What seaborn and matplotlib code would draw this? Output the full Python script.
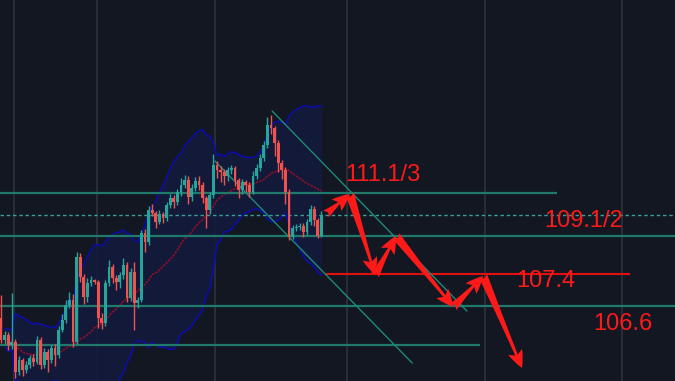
import numpy as np
import pandas as pd
import seaborn as sns
import matplotlib.pyplot as plt

# candle data (one bar per slot)
first_open = 105.10
closes = [104.00, 104.25, 103.75, 103.90, 102.40, 103.00, 102.50, 102.75, 103.10, 102.90,
          104.00, 102.75, 103.40, 103.00, 103.60, 103.25, 104.50, 105.00, 105.75, 106.00,
          103.90, 108.15, 107.15, 106.15, 106.85, 107.00, 106.90, 105.10, 104.85, 106.85,
          107.65, 107.10, 106.90, 107.25, 107.75, 106.10, 107.40, 105.85, 106.00, 109.35,
          108.90, 110.50, 110.35, 109.90, 110.30, 110.10, 110.75, 111.10, 110.90, 111.40,
          111.75, 112.00, 111.15, 111.60, 111.95, 111.75, 111.10, 110.50, 111.25, 112.75,
          112.50, 112.40, 112.20, 112.50, 112.60, 112.00, 111.50, 111.90, 111.75, 111.40,
          112.20, 112.60, 113.10, 113.75, 114.75, 114.60, 113.85, 112.85, 112.50, 111.40,
          109.15, 109.60, 109.65, 109.70, 109.40, 109.90, 110.55, 110.00, 109.20, 110.25]
highs = [106.25, 104.45, 104.40, 106.35, 104.05, 103.20, 103.10, 102.95, 103.25, 103.30,
         104.20, 104.15, 103.60, 103.55, 103.75, 103.80, 104.70, 105.30, 106.00, 106.40,
         106.30, 108.40, 108.35, 107.30, 107.10, 107.20, 107.05, 107.00, 105.35, 107.00,
         108.00, 107.80, 107.25, 107.40, 108.10, 107.90, 107.60, 107.90, 106.15, 109.50,
         109.55, 110.70, 110.80, 110.45, 110.50, 110.40, 110.90, 111.30, 111.25, 111.55,
         112.10, 112.25, 112.20, 111.80, 112.15, 112.20, 111.90, 111.20, 111.40, 113.30,
         112.95, 112.70, 112.55, 112.65, 112.75, 112.70, 112.10, 112.05, 112.00, 111.90,
         112.45, 112.80, 113.30, 113.95, 115.15, 115.25, 114.70, 114.00, 113.00, 112.65,
         111.55, 109.75, 109.80, 109.85, 109.85, 110.05, 110.75, 110.70, 110.10, 110.45]
lows = [103.85, 103.80, 103.50, 103.55, 102.10, 102.25, 102.20, 102.35, 102.60, 102.70,
        102.80, 102.55, 102.60, 102.40, 102.85, 102.70, 103.10, 104.40, 104.85, 105.60,
        103.65, 103.80, 106.90, 105.80, 105.90, 106.70, 106.80, 104.60, 104.55, 104.70,
        106.70, 106.85, 106.50, 106.60, 107.05, 105.90, 105.95, 104.50, 105.60, 105.90,
        108.40, 108.75, 110.20, 109.60, 109.80, 109.85, 109.95, 110.60, 110.60, 110.75,
        111.20, 111.60, 110.80, 110.95, 111.45, 111.50, 110.85, 109.60, 110.30, 111.10,
        112.10, 111.90, 111.75, 111.95, 112.30, 111.70, 111.10, 111.30, 111.40, 111.15,
        111.30, 112.05, 112.45, 112.95, 113.60, 114.30, 113.20, 112.40, 112.05, 110.80,
        109.00, 109.05, 109.45, 109.50, 109.15, 109.25, 109.75, 109.70, 109.10, 109.15]

# drawn levels (price)
level_full = [109.20, 105.70]
level_top = 111.35
level_low = 103.75
level_red = 107.30
last_price = 110.25

# trend channel lines (bar, price)
channel_upper = [(75.3, 115.45), (129.4, 105.45)]
channel_lower = [(59.4, 112.95), (114.2, 102.85)]

# forecast path (bar, price)
path_bar = [90.3, 96.9, 103.9, 109.7, 125.6, 133.9, 144.7]
path_price = [110.30, 111.30, 107.25, 109.20, 105.65, 107.20, 102.60]

# annotations
labels = ["111.1/3", "109.1/2", "107.4", "106.6"]
label_bar = [106.1, 161.7, 151.4, 172.8]
label_price = [112.25, 109.95, 106.95, 104.8]

grid_bars = [3.6, 26.7, 59.4, 96.1, 134.4, 172.5]

df = pd.DataFrame({"close": closes, "high": highs, "low": lows})
df["open"] = [first_open] + closes[:-1]
df["bar"] = np.arange(len(df))
roll = df["close"].rolling(22, min_periods=2)
df["mid"] = roll.mean()
df["upper"] = df["mid"] + 2.3 * roll.std()
df["lower"] = df["mid"] - 2.3 * roll.std()

bg = "#131722"
up_c, dn_c = "#26a69a", "#ef5350"
teal = "#1f7a6c"

sns.set_theme(style="dark", rc={"axes.facecolor": bg, "figure.facecolor": bg})
plt.rcParams["font.family"] = ["Liberation Sans", "DejaVu Sans"]

fig = plt.figure(figsize=(6.75, 3.81), dpi=100)
ax = fig.add_axes([0, 0, 1, 1])
ax.set_xlim(-0.28, 187.2)
ax.set_ylim(101.95, 121.0)

for gx in grid_bars:
    ax.axvline(gx, color="#2e323d", lw=1.2, zorder=0)

# bollinger band
ax.fill_between(df["bar"], df["lower"], df["upper"], color="#141a3c", alpha=0.9, lw=0, zorder=1)
sns.lineplot(data=df, x="bar", y="upper", ax=ax, color="#0c0cb0", lw=1.1, zorder=2)
sns.lineplot(data=df, x="bar", y="lower", ax=ax, color="#0c0cb0", lw=1.1, zorder=2)
sns.lineplot(data=df, x="bar", y="mid", ax=ax, color="#8a1028", lw=1.2, ls=(0, (1.5, 0.6)), zorder=2)

# levels
for lv in level_full:
    ax.axhline(lv, color=teal, lw=1.6, zorder=3)
ax.hlines(level_top, -0.28, 154.4, color=teal, lw=1.6, zorder=3)
ax.hlines(level_low, -0.28, 133.0, color=teal, lw=1.6, zorder=3)
ax.axhline(last_price, color="#3a9e98", lw=1.0, ls=(0, (2.5, 2)), zorder=3)
ax.hlines(level_red, 90.0, 174.7, color="#e01010", lw=1.5, zorder=3)

for line in (channel_upper, channel_lower):
    xs, ys = zip(*line)
    ax.plot(xs, ys, color="#1f8a78", lw=1.0, zorder=3)

# candles
colors = [up_c if c >= o else dn_c for o, c in zip(df["open"], df["close"])]
ax.vlines(df["bar"], df["low"], df["high"], colors=colors, lw=1.0, zorder=4)
body_lo = np.minimum(df["open"], df["close"])
body_h = np.maximum(np.abs(df["close"] - df["open"]), 0.06)
ax.bar(df["bar"], body_h, bottom=body_lo, width=0.8, color=colors, lw=0, zorder=5)

# forecast arrows
for k in range(len(path_bar) - 1):
    ax.annotate("", xy=(path_bar[k + 1], path_price[k + 1]), xytext=(path_bar[k], path_price[k]),
                arrowprops=dict(arrowstyle="fancy,head_length=0.7,head_width=0.6,tail_width=0.35",
                                color="#ff1a1a", lw=0, shrinkA=0, shrinkB=0, mutation_scale=18),
                zorder=6)

for t, bx, py in zip(labels, label_bar, label_price):
    ax.text(bx, py, t, color="#ff1a1a", fontsize=17, ha="center", va="center", zorder=7)

ax.set_xlabel("")
ax.set_ylabel("")
ax.set_xticks([])
ax.set_yticks([])
for s in ax.spines.values():
    s.set_visible(False)

fig.savefig("out.png", dpi=100, facecolor=bg)
